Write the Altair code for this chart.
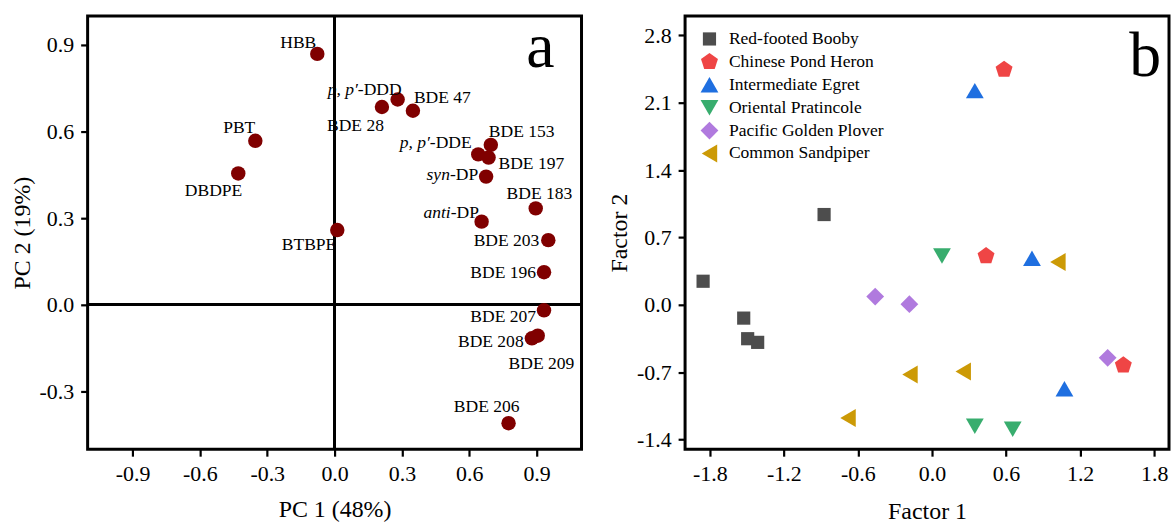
import altair as alt
import pandas as pd

# ---------------- Panel a: PCA loadings ----------------
pca_names = ["HBB", "PBT", "DBDPE", "BTBPE", "p,p'-DDD", "BDE 28", "BDE 47",
             "BDE 153", "p,p'-DDE", "BDE 197", "syn-DP", "BDE 183", "anti-DP",
             "BDE 203", "BDE 196", "BDE 207", "BDE 208", "BDE 209", "BDE 206"]
pc1 = [-0.077, -0.353, -0.429, 0.012, 0.281, 0.211, 0.349,
       0.696, 0.640, 0.686, 0.675, 0.896, 0.655,
       0.952, 0.933, 0.933, 0.879, 0.905, 0.775]
pc2 = [0.869, 0.568, 0.455, 0.259, 0.711, 0.685, 0.672,
       0.554, 0.521, 0.510, 0.444, 0.334, 0.288,
       0.224, 0.113, -0.019, -0.116, -0.107, -0.410]

# label text: (italic part, regular part)
label_text = {
    "HBB": ("", "HBB"), "PBT": ("", "PBT"), "DBDPE": ("", "DBDPE"),
    "BTBPE": ("", "BTBPE"), "p,p'-DDD": ("p, p\u2032", "-DDD"),
    "BDE 28": ("", "BDE 28"), "BDE 47": ("", "BDE 47"),
    "BDE 153": ("", "BDE 153"), "p,p'-DDE": ("p, p\u2032", "-DDE"),
    "BDE 197": ("", "BDE 197"), "syn-DP": ("syn", "-DP"),
    "BDE 183": ("", "BDE 183"), "anti-DP": ("anti", "-DP"),
    "BDE 203": ("", "BDE 203"), "BDE 196": ("", "BDE 196"),
    "BDE 207": ("", "BDE 207"), "BDE 208": ("", "BDE 208"),
    "BDE 209": ("", "BDE 209"), "BDE 206": ("", "BDE 206"),
}
# label placement style: (align, dx, dy) relative to the point, alphabetic baseline
label_style = {
    "HBB": ("right", -1, -6), "PBT": ("right", 0, -8), "DBDPE": ("right", 4, 22.6),
    "BTBPE": ("right", -1, 20), "p,p'-DDD": ("right", 4, -5),
    "BDE 28": ("right", 2, 24), "BDE 47": ("left", 1, -8),
    "BDE 153": ("left", -2, -8), "p,p'-DDE": ("right", -6.6, -6.7),
    "BDE 197": ("left", 10, 11.3), "syn-DP": ("right", -8, 3.3),
    "BDE 183": ("center", 3.7, -9.4), "anti-DP": ("right", -2.7, -3.3),
    "BDE 203": ("right", -9, 6.3), "BDE 196": ("right", -8, 6),
    "BDE 207": ("right", -8, 11.3), "BDE 208": ("right", -8.3, 8.3),
    "BDE 209": ("center", 3.7, 33.4), "BDE 206": ("center", -22, -11),
}
# advance widths (em) of the regular suffixes in a Times-metric font
suffix_em = {"-DDD": 2.499, "-DDE": 2.388, "-DP": 1.611}

# ---------------- Panel b: factor scores ----------------
species_order = ["Red-footed Booby", "Chinese Pond Heron", "Intermediate Egret",
                 "Oriental Pratincole", "Pacific Golden Plover", "Common Sandpiper"]
species = (["Red-footed Booby"] * 5 + ["Chinese Pond Heron"] * 3 +
           ["Intermediate Egret"] * 3 + ["Oriental Pratincole"] * 3 +
           ["Pacific Golden Plover"] * 3 + ["Common Sandpiper"] * 4)
factor1 = [-0.874, -1.854, -1.525, -1.493, -1.412,
           0.584, 0.438, 1.550,
           0.347, 0.810, 1.073,
           0.081, 0.347, 0.654,
           -0.460, -0.183, 1.423,
           1.020, -0.178, 0.253, -0.680]
factor2 = [0.938, 0.245, -0.138, -0.352, -0.390,
           2.444, 0.507, -0.627,
           2.225, 0.483, -0.872,
           0.507, -1.262, -1.293,
           0.086, 0.007, -0.551,
           0.445, -0.724, -0.693, -1.176]
species_colors = ["#4d4d4d", "#ef4545", "#1f6fe0", "#38ad6e", "#b07ade", "#cc9a06"]
square_path = "M-0.74,-0.74L0.74,-0.74L0.74,0.74L-0.74,0.74Z"
pentagon_path = "M0,-1L0.951,-0.309L0.588,0.809L-0.588,0.809L-0.951,-0.309Z"
species_shapes = [square_path, pentagon_path, "triangle-up", "triangle-down",
                  "diamond", "triangle-left"]

FONT = "Liberation Serif"
LABEL_FS = 17.6
TICK_FS = 22
TITLE_FS = 24

neg_fmt = "(datum.value < 0 ? '-' : '') + format(abs(datum.value), '.1f')"

# ---------------- build panel a ----------------
df_a = pd.DataFrame({"name": pca_names, "pc1": pc1, "pc2": pc2})
W_A, H_A = 496, 435

xa = alt.X("pc1:Q", scale=alt.Scale(domain=[-1.1, 1.1], nice=False, zero=False),
           axis=alt.Axis(values=[-0.9, -0.6, -0.3, 0.0, 0.3, 0.6, 0.9],
                         labelExpr=neg_fmt, title="PC 1 (48%)", titlePadding=14))
ya = alt.Y("pc2:Q", scale=alt.Scale(domain=[-0.5, 1.0], nice=False, zero=False),
           axis=alt.Axis(values=[-0.3, 0.0, 0.3, 0.6, 0.9],
                         labelExpr=neg_fmt, title="PC 2 (19%)", titlePadding=5))

base_a = alt.Chart(df_a)
hline = base_a.mark_rule(color="black", strokeWidth=2).encode(y=alt.datum(0))
vline = base_a.mark_rule(color="black", strokeWidth=2).encode(x=alt.datum(0))
points_a = base_a.mark_circle(size=210, color="#800000", opacity=1).encode(x=xa, y=ya)

label_layers = []
for n in pca_names:
    ital, reg = label_text[n]
    align, dx, dy = label_style[n]
    f = base_a.transform_filter(alt.datum.name == n)
    label_layers.append(
        f.mark_text(align=align, baseline="alphabetic", dx=dx, dy=dy,
                    fontSize=LABEL_FS, font=FONT, color="black")
        .encode(x="pc1:Q", y="pc2:Q", text=alt.value(reg))
    )
    if ital:
        w = suffix_em[reg] * LABEL_FS
        label_layers.append(
            f.mark_text(align="right", baseline="alphabetic", dx=dx - w, dy=dy,
                        fontSize=LABEL_FS, font=FONT, fontStyle="italic", color="black")
            .encode(x="pc1:Q", y="pc2:Q", text=alt.value(ital))
        )

letter_a = alt.Chart(df_a.head(1)).mark_text(
    align="right", baseline="alphabetic", fontSize=64, font=FONT, color="black"
).encode(x=alt.value(W_A - 27), y=alt.value(51), text=alt.value("a"))

panel_a = alt.layer(hline, vline, points_a, *label_layers, letter_a).properties(
    width=W_A, height=H_A)

# ---------------- build panel b ----------------
df_b = pd.DataFrame({"species": species, "f1": factor1, "f2": factor2})
W_B, H_B = 486, 435

legend_b = alt.Legend(title=None, orient="none", legendX=615.5, legendY=14,
                      padding=0, labelFontSize=LABEL_FS, labelFont=FONT,
                      labelColor="black", labelOffset=10.5, rowPadding=5,
                      symbolSize=320, symbolStrokeWidth=0, labelLimit=400)

points_b = alt.Chart(df_b).mark_point(filled=True, size=320, opacity=1).encode(
    x=alt.X("f1:Q", scale=alt.Scale(domain=[-2.0, 1.92], nice=False, zero=False),
            axis=alt.Axis(values=[-1.8, -1.2, -0.6, 0.0, 0.6, 1.2, 1.8],
                          labelExpr=neg_fmt, title="Factor 1", titlePadding=16)),
    y=alt.Y("f2:Q", scale=alt.Scale(domain=[-1.5, 3.0], nice=False, zero=False),
            axis=alt.Axis(values=[-1.4, -0.7, 0.0, 0.7, 1.4, 2.1, 2.8],
                          labelExpr=neg_fmt, title="Factor 2", titlePadding=5)),
    color=alt.Color("species:N", scale=alt.Scale(domain=species_order, range=species_colors),
                    legend=legend_b),
    shape=alt.Shape("species:N", scale=alt.Scale(domain=species_order, range=species_shapes),
                    legend=legend_b),
)

letter_b = alt.Chart(df_b.head(1)).mark_text(
    align="right", baseline="alphabetic", fontSize=64, font=FONT, color="black"
).encode(x=alt.value(W_B - 8), y=alt.value(60), text=alt.value("b"))

panel_b = alt.layer(points_b, letter_b).properties(width=W_B, height=H_B)

chart = alt.hconcat(panel_a, panel_b, spacing=21).properties(
    padding={"left": 8, "top": 12, "right": 0, "bottom": 0}
).configure(font=FONT, background="white").configure_view(
    stroke="black", strokeWidth=3
).configure_axis(
    grid=False, domain=False, ticks=True, tickSize=7, tickWidth=2.2, tickColor="black",
    labelPadding=7, labelFontSize=TICK_FS, labelColor="black", labelFont=FONT,
    titleFontSize=TITLE_FS, titleFontWeight="normal", titleColor="black", titleFont=FONT
)

chart.save("out.html", embed_options={"renderer": "svg", "actions": False})
